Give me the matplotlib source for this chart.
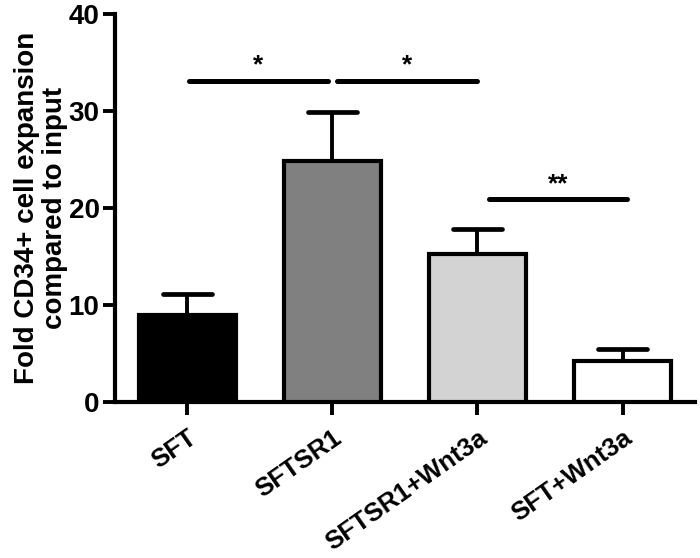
import matplotlib
matplotlib.use("Agg")
import matplotlib.pyplot as plt

categories = ["SFT", "SFTSR1", "SFTSR1+Wnt3a", "SFT+Wnt3a"]
means = [9.0, 24.8, 15.3, 4.2]
errors = [2.1, 5.1, 2.5, 1.3]
colors = ["#000000", "#808080", "#d3d3d3", "#ffffff"]
yticks = [0, 10, 20, 30, 40]
# significance brackets: (x_start, x_end, y, label)
sig_x0 = [0.01, 1.03, 2.08]
sig_x1 = [0.97, 2.0, 3.03]
sig_y = [33.1, 33.1, 20.9]
sig_lbl = ["*", "*", "**"]

plt.rcParams['font.family'] = ['Liberation Sans', 'DejaVu Sans']
plt.rcParams['font.weight'] = 'bold'

fig = plt.figure(figsize=(7, 5.58), dpi=100)
ax = fig.add_axes([0.164, 0.2796, 0.829, 0.6954])

x = list(range(len(categories)))
bar_w = 0.67
cap_half = 0.17
ax.bar(x, means, width=bar_w, color=colors, edgecolor="black", linewidth=3.0, zorder=3)
tops = [m + e for m, e in zip(means, errors)]
ax.vlines(x, means, tops, color="black", linewidth=2.8, zorder=2)
ax.hlines(tops, [xi - cap_half for xi in x], [xi + cap_half for xi in x],
          color="black", linewidth=3.4, zorder=2, capstyle="round")

for x0, x1, y, lbl in zip(sig_x0, sig_x1, sig_y, sig_lbl):
    ax.plot([x0, x1], [y, y], color="black", linewidth=3.6, solid_capstyle="round", zorder=4)
    ax.text((x0 + x1) / 2, y + 0.35, lbl, ha="center", va="bottom", fontsize=19, fontweight="bold")

ax.set_xlim(-0.5, 3.5)
ax.set_ylim(0, 40)
ax.set_yticks(yticks)
ax.set_xticks(x)
ax.set_xticklabels(categories, rotation=35, ha="right", va="top", rotation_mode="anchor",
                   fontsize=18.5, fontweight="bold")
ax.tick_params(axis="y", labelsize=20, width=2.8, length=9, direction="out", pad=2)
ax.tick_params(axis="x", width=2.8, length=9, direction="out", pad=8)
for lbl in ax.get_yticklabels():
    lbl.set_fontweight("bold")

for s in ["top", "right"]:
    ax.spines[s].set_visible(False)
for s in ["left", "bottom"]:
    ax.spines[s].set_linewidth(3.0)

ax.set_ylabel("Fold CD34+ cell expansion\ncompared to input", fontsize=20, fontweight="bold",
              linespacing=1.1)
ax.yaxis.set_label_coords(-0.08, 0.5)

fig.savefig("out.png", dpi=100)
